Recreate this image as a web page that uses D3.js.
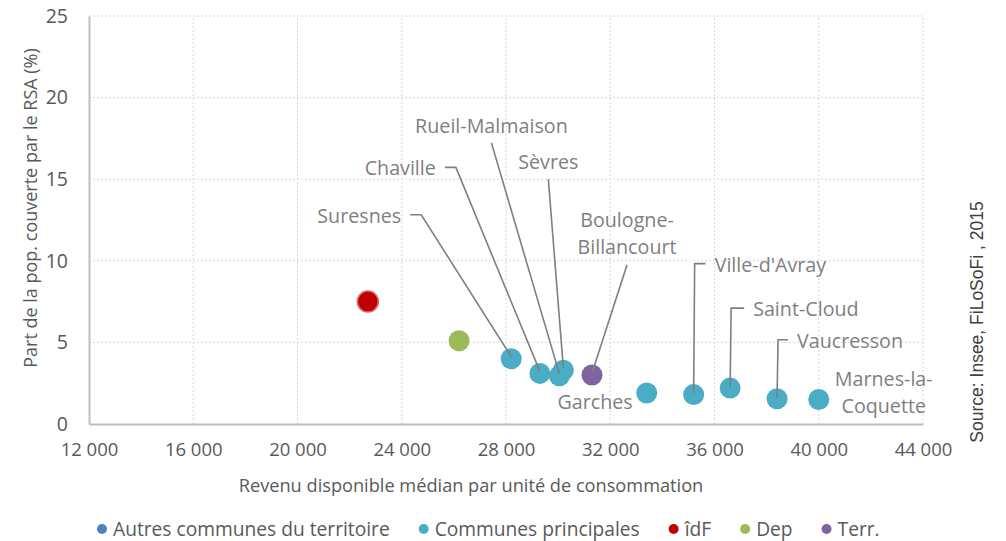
<!DOCTYPE html>
<html>
<head>
<meta charset="utf-8">
<script src="https://cdn.jsdelivr.net/npm/d3@7"></script>
<style>
  body { margin: 0; background: #fff; }
  text { fill: #595959; }
</style>
</head>
<body>
<div id="chart"></div>
<script>
// data
var seriesNames = ["Autres communes du territoire", "Communes principales", "îdF", "Dep", "Terr."];
var seriesColors = ["#4f81bd", "#4bacc6", "#c00000", "#9bbb59", "#8064a2"];

var pointNames = ["Suresnes", "Chaville", "Rueil-Malmaison", "Sèvres", "Garches",
                  "Ville-d'Avray", "Saint-Cloud", "Vaucresson", "Marnes-la-Coquette",
                  "îdF", "Dep", "Boulogne-Billancourt"];
var pointSeries = [1, 1, 1, 1, 1, 1, 1, 1, 1, 2, 3, 4];
var revenu = [28200, 29300, 30050, 30200, 33400, 35200, 36600, 38400, 40000, 22700, 26200, 31300];
var partRSA = [4.0, 3.1, 2.95, 3.3, 1.9, 1.8, 2.2, 1.55, 1.5, 7.5, 5.1, 3.0];

var xTicks = [12000, 16000, 20000, 24000, 28000, 32000, 36000, 40000, 44000];
var yTicks = [0, 5, 10, 15, 20, 25];

// label layout (pixel offsets from the point), kept apart from the data
var labelLayout = {
    "Suresnes":            {dx: -110, dy: -143, anchor: "end",    lead: "elbow"},
    "Chaville":            {dx: -104, dy: -205, anchor: "end",    lead: "elbow"},
    "Rueil-Malmaison":     {dx: -68,  dy: -250, anchor: "middle", lead: "under"},
    "Sèvres":              {dx: -15,  dy: -208, anchor: "middle", lead: "under"},
    "Boulogne-Billancourt":{dx: 35,   dy: -155, anchor: "middle", lead: "under", lines: ["Boulogne-", "Billancourt"]},
    "Garches":             {dx: -14,  dy: 9,    anchor: "end",    lead: null},
    "Ville-d'Avray":       {dx: 21,   dy: -130, anchor: "start",  lead: "elbow"},
    "Saint-Cloud":         {dx: 23,   dy: -79,  anchor: "start",  lead: "elbow"},
    "Vaucresson":          {dx: 20,   dy: -58,  anchor: "start",  lead: "elbow"},
    "Marnes-la-Coquette":  {dx: 65,   dy: -20,  anchor: "middle", lead: null, lines: ["Marnes-la-", "Coquette"]}
};

var W = 1006, H = 541;
var margin = {left: 89, right: 83, top: 16, bottom: 117};
var FONT = "'Open Sans', sans-serif";

var svg = d3.select("#chart").append("svg")
    .attr("width", W)
    .attr("height", H);

var x = d3.scaleLinear().domain([12000, 44000]).range([margin.left, W - margin.right]);
var y = d3.scaleLinear().domain([0, 25]).range([H - margin.bottom, margin.top]);

var fmt = function(d) { return d3.format(",")(d).replace(/,/g, " "); };

// gridlines
var grid = svg.append("g");
grid.selectAll("line.gy").data(yTicks.slice(1)).enter().append("line")
    .attr("x1", x(12000)).attr("x2", x(44000))
    .attr("y1", function(d) { return y(d); }).attr("y2", function(d) { return y(d); })
    .style("stroke", "#d9d9d9").style("stroke-dasharray", "2,2");
grid.selectAll("line.gx").data(xTicks.slice(1)).enter().append("line")
    .attr("x1", function(d) { return x(d); }).attr("x2", function(d) { return x(d); })
    .attr("y1", y(0)).attr("y2", y(25))
    .style("stroke", "#d9d9d9").style("stroke-dasharray", "2,2");

// axes
var xAxis = svg.append("g")
    .attr("transform", "translate(0," + y(0) + ")")
    .call(d3.axisBottom(x).tickValues(xTicks).tickFormat(fmt).tickSize(0).tickPadding(19));
xAxis.select(".domain").style("stroke", "#bfbfbf").style("stroke-width", 2);
xAxis.selectAll("text")
    .style("font-family", FONT)
    .style("font-size", "18.5px").style("fill", "#595959");

var yAxis = svg.append("g")
    .attr("transform", "translate(" + x(12000) + ",0)")
    .call(d3.axisLeft(y).tickValues(yTicks).tickSize(0).tickPadding(21));
yAxis.select(".domain").style("stroke", "#bfbfbf").style("stroke-width", 2);
yAxis.selectAll("text")
    .style("font-family", FONT)
    .style("font-size", "19.5px").style("fill", "#595959");

// axis titles
svg.append("text")
    .attr("x", (x(12000) + x(44000)) / 2 - 35).attr("y", 492)
    .attr("text-anchor", "middle")
    .style("font-family", FONT)
    .style("font-size", "18.2px")
    .text("Revenu disponible médian par unité de consommation");

svg.append("text")
    .attr("transform", "translate(37,208) rotate(-90)")
    .attr("text-anchor", "middle")
    .style("font-family", FONT)
    .style("font-size", "18px")
    .text("Part de la pop. couverte par le RSA (%)");

svg.append("text")
    .attr("transform", "translate(983,322) rotate(-90)")
    .attr("text-anchor", "middle")
    .style("font-family", "'Liberation Sans', Arial, sans-serif")
    .style("font-size", "17.5px")
    .style("fill", "#404040")
    .text("Source: Insee, FiLoSoFi , 2015");

// leader lines
var points = pointNames.map(function(n, i) {
    return {name: n, s: pointSeries[i], px: x(revenu[i]), py: y(partRSA[i])};
});

var leaders = svg.append("g");
points.forEach(function(p) {
    var L = labelLayout[p.name];
    if (!L || !L.lead) return;
    var tx = p.px + L.dx, ty = p.py + L.dy;
    var path;
    if (L.lead == "elbow") {
        if (L.anchor == "end") {
            path = [[tx + 9, ty - 1], [tx + 20, ty - 1], [p.px, p.py - 2]];
        } else {
            path = [[tx - 9, ty - 1], [p.px + 1, ty - 1], [p.px, p.py - 1]];
        }
    } else {
        var off = L.lines ? 45 : 17;
        path = [[tx, ty + off], [p.px, p.py - 2]];
    }
    leaders.append("path")
        .attr("d", d3.line()(path))
        .style("fill", "none").style("stroke", "#7f7f7f").style("stroke-width", 1.6);
});

// points
svg.append("g").selectAll("circle").data(points).enter().append("circle")
    .attr("cx", function(d) { return d.px; })
    .attr("cy", function(d) { return d.py; })
    .attr("r", 10.5)
    .style("fill", function(d) { return seriesColors[d.s]; })
    .style("stroke", function(d) { return d.s == 2 ? "#e06666" : "none"; })
    .style("stroke-width", 1.5);

// leader ends sit on top of the markers
leaders.raise();

// labels
var labels = svg.append("g");
points.forEach(function(p) {
    var L = labelLayout[p.name];
    if (!L) return;
    var lines = L.lines || [p.name];
    var t = labels.append("text")
        .attr("text-anchor", L.anchor)
        .style("font-family", FONT)
        .style("font-size", "19.7px")
        .style("fill", "#7f7f7f");
    lines.forEach(function(s, k) {
        t.append("tspan")
            .attr("x", p.px + L.dx)
            .attr("y", p.py + L.dy + k * 27)
            .attr("dy", ".35em")
            .text(s);
    });
});

// legend
var legend = svg.append("g").attr("transform", "translate(0,529)");
var lx = 102;
seriesNames.forEach(function(n, i) {
    legend.append("circle").attr("cx", lx).attr("cy", 0).attr("r", 5)
        .style("fill", seriesColors[i]);
    var t = legend.append("text")
        .attr("x", lx + 11).attr("y", 0).attr("dy", ".35em")
        .style("font-family", FONT)
        .style("font-size", "19.2px")
        .text(n);
    lx += 11 + t.node().getComputedTextLength() + 34;
});
</script>
</body>
</html>
